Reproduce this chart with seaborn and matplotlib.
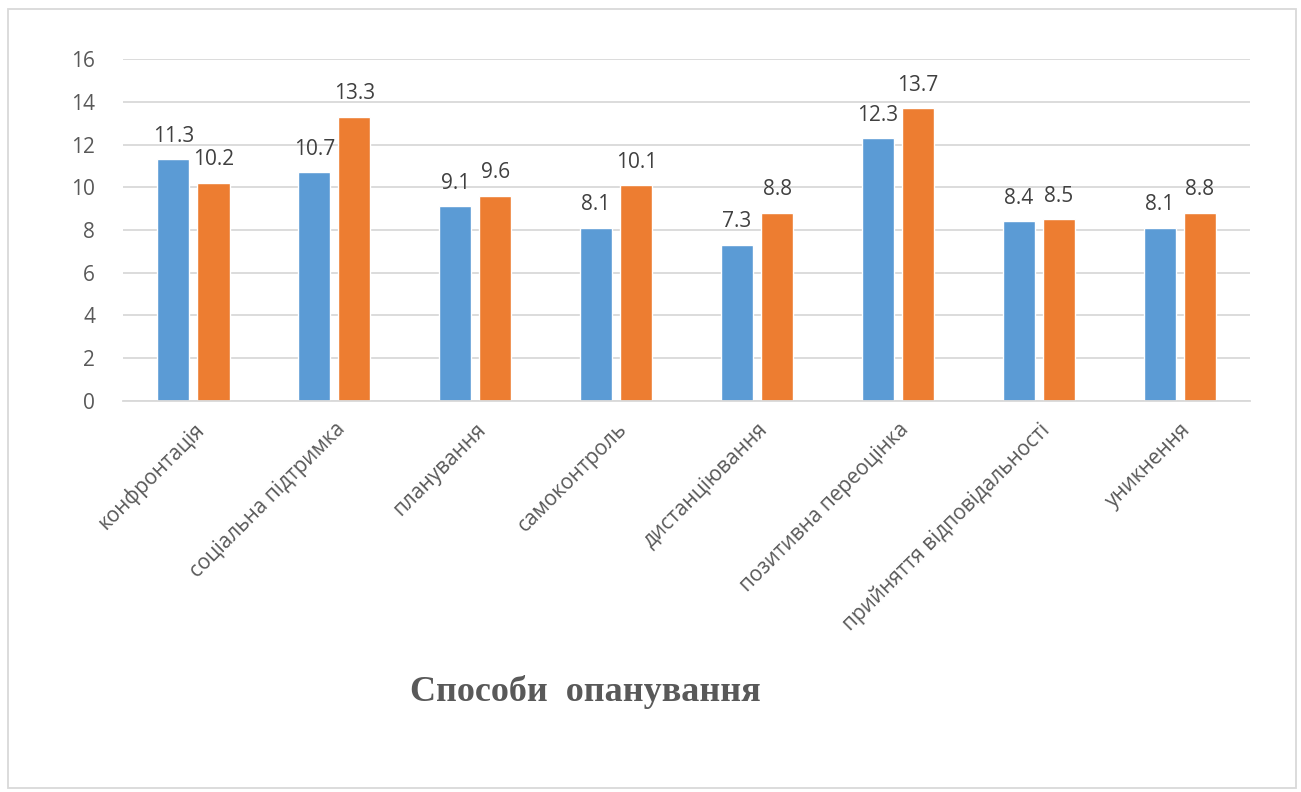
import pandas as pd
import matplotlib.pyplot as plt
import seaborn as sns
from matplotlib.patches import Rectangle

# Дані, зчитані з діаграми
categories = ['конфронтація', 'соціальна підтримка', 'планування', 'самоконтроль',
              'дистанціювання', 'позитивна переоцінка', 'прийняття відповідальності',
              'уникнення']
series_1 = [11.3, 10.7, 9.1, 8.1, 7.3, 12.3, 8.4, 8.1]
series_2 = [10.2, 13.3, 9.6, 10.1, 8.8, 13.7, 8.5, 8.8]
series_names = ['Ряд 1', 'Ряд 2']
y_ticks = [0, 2, 4, 6, 8, 10, 12, 14, 16]
title_text = 'Способи  опанування'

df = pd.DataFrame({
    'категорія': categories * 2,
    'значення': series_1 + series_2,
    'ряд': [series_names[0]] * len(categories) + [series_names[1]] * len(categories),
})

sns.set_style('white')
plt.rcParams['font.family'] = ['Open Sans', 'DejaVu Sans']

fig = plt.figure(figsize=(13.01, 7.92), dpi=100)
ax = fig.add_axes([0.0945, 0.4937, 0.8665, 0.4318])

sns.barplot(data=df, x='категорія', y='значення', hue='ряд',
            palette=['#5B9BD5', '#ED7D31'], width=0.57, gap=0.2,
            saturation=1, legend=False, ax=ax)

for cont in ax.containers:
    ax.bar_label(cont, fmt='%.1f', padding=9, fontsize=15, color='#404040')

ax.set_ylim(0, 16)
ax.set_yticks(y_ticks)
ax.set_xlim(-0.5, len(categories) - 0.5)
ax.set_xlabel('')
ax.set_ylabel('')
ax.grid(axis='y', color='#D9D9D9', linewidth=1.3)
ax.set_axisbelow(True)
for side in ['top', 'right', 'left']:
    ax.spines[side].set_visible(False)
ax.spines['bottom'].set_color('#D9D9D9')
ax.spines['bottom'].set_linewidth(1.3)

ax.tick_params(axis='y', length=0, labelsize=15, labelcolor='#595959', pad=20)
ax.tick_params(axis='x', length=0, labelsize=15, labelcolor='#595959', pad=13)
plt.setp(ax.get_xticklabels(), rotation=45, ha='right', rotation_mode='anchor')

fig.text(0.45, 0.126, title_text, ha='center', va='center',
         fontsize=26, fontweight='bold', color='#595959',
         family=['Liberation Serif', 'DejaVu Serif'])

# рамка діаграми
fig.patches.append(Rectangle((8 / 1301, 4 / 792), 1288 / 1301, 779 / 792,
                             transform=fig.transFigure, fill=False,
                             edgecolor='#D9D9D9', linewidth=1.3))

fig.savefig('out.png', dpi=100, facecolor='white')
